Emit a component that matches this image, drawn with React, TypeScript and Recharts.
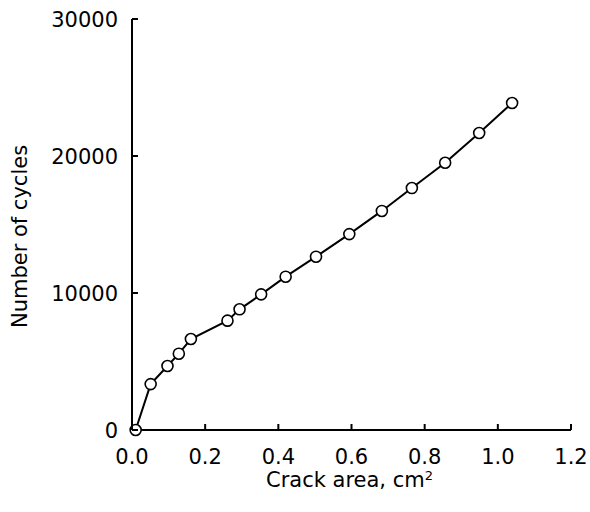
import { LineChart, Line, XAxis, YAxis } from "recharts";

const crackArea = [0.01, 0.051, 0.097, 0.128, 0.161, 0.261, 0.294, 0.353, 0.42, 0.503, 0.594, 0.683, 0.765, 0.856, 0.949, 1.039];
const cycles = [0, 3350, 4670, 5570, 6640, 7980, 8810, 9900, 11190, 12650, 14300, 15990, 17660, 19510, 21680, 23870];

const xTicks = [0, 0.2, 0.4, 0.6, 0.8, 1.0, 1.2];
const yTicks = [0, 10000, 20000, 30000];

const data = crackArea.map((a, i) => ({ area: a, cycles: cycles[i] }));

const FONT = "DejaVu Sans, Liberation Sans, Arial, sans-serif";
const FS = 21;
const X_MARGIN = 20;
const Y_MARGIN = 14;
const TICK_LEN = 6;

// ticks point into the plot, so draw them ourselves next to the label
function XTick({ x, y, payload }: any) {
  const axisY = y - X_MARGIN;
  return (
    <g>
      <line x1={x} y1={axisY} x2={x} y2={axisY - TICK_LEN} stroke="#000" strokeWidth={2} />
      <text x={x} y={y + 14} textAnchor="middle" fontSize={FS} fontFamily={FONT} fill="#000">
        {Number(payload.value).toFixed(1)}
      </text>
    </g>
  );
}

function YTick({ x, y, payload }: any) {
  const axisX = x + Y_MARGIN;
  return (
    <g>
      <line x1={axisX} y1={y} x2={axisX + TICK_LEN} y2={y} stroke="#000" strokeWidth={2} />
      <text x={x} y={y + 7.5} textAnchor="end" fontSize={FS} fontFamily={FONT} fill="#000">
        {payload.value}
      </text>
    </g>
  );
}

function XLabel({ viewBox }: any) {
  const cx = viewBox.x + viewBox.width / 2 - 2;
  return (
    <text x={cx} y={viewBox.y + 57} textAnchor="middle" fontSize={FS} fontFamily={FONT} fill="#000">
      Crack area, cm
      <tspan fontSize={13} dy={-7}>2</tspan>
    </text>
  );
}

function YLabel({ viewBox }: any) {
  const x = viewBox.x + 27;
  const y = viewBox.y + viewBox.height / 2 + 12;
  return (
    <text
      x={x}
      y={y}
      transform={`rotate(-90, ${x}, ${y})`}
      textAnchor="middle"
      fontSize={FS}
      fontFamily={FONT}
      fill="#000"
    >
      Number of cycles
    </text>
  );
}

export default function App() {
  return (
    <div style={{ position: "absolute", left: 0, top: 0, background: "#fff" }}>
      <LineChart width={590} height={512} data={data} margin={{ top: 19, right: 19, bottom: 0, left: 0 }}>
        <XAxis
          dataKey="area"
          type="number"
          domain={[0, 1.2]}
          ticks={xTicks}
          interval={0}
          height={82}
          tickSize={0}
          tickMargin={X_MARGIN}
          axisLine={{ stroke: "#000", strokeWidth: 2 }}
          tickLine={false}
          tick={<XTick />}
          label={<XLabel />}
        />
        <YAxis
          type="number"
          domain={[0, 30000]}
          ticks={yTicks}
          interval={0}
          width={132}
          tickSize={0}
          tickMargin={Y_MARGIN}
          axisLine={{ stroke: "#000", strokeWidth: 2 }}
          tickLine={false}
          tick={<YTick />}
          label={<YLabel />}
        />
        <Line
          dataKey="cycles"
          type="linear"
          stroke="#000"
          strokeWidth={2}
          dot={{ r: 5.5, fill: "#fff", stroke: "#000", strokeWidth: 1.6 }}
          isAnimationActive={false}
        />
      </LineChart>
    </div>
  );
}
